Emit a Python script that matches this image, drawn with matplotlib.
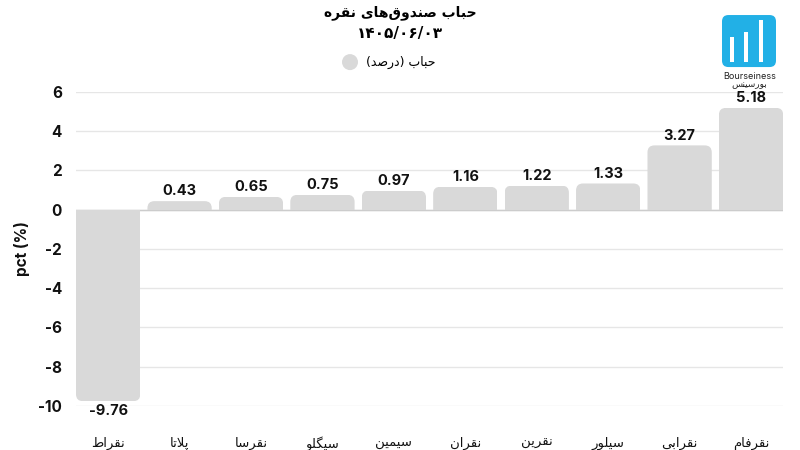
import matplotlib
matplotlib.use('Agg')
import matplotlib.pyplot as plt
from matplotlib.patches import FancyBboxPatch, Rectangle, Ellipse

# داده‌ها
funds = ['نقراط', 'پلاتا', 'نقرسا', 'سیگلو', 'سیمین', 'نقران', 'نقرین', 'سیلور', 'نقرابی', 'نقرفام']
bubble = [-9.76, 0.43, 0.65, 0.75, 0.97, 1.16, 1.22, 1.33, 3.27, 5.18]
yticks = [-10, -8, -6, -4, -2, 0, 2, 4, 6]
title_text = 'حباب صندوق‌های نقره'
date_text = '۱۴۰۵/۰۶/۰۳'
legend_text = 'حباب (درصد)'
brand_en = 'Bourseiness'
brand_fa = 'بورسینس'

# شکل‌دهی ساده حروف فارسی (matplotlib خودش انجام نمی‌دهد)
FORMS = {
    'ا': ('\uFE8D', '\uFE8E', None, None),
    'ب': ('\uFE8F', '\uFE90', '\uFE91', '\uFE92'),
    'پ': ('\uFB56', '\uFB57', '\uFB58', '\uFB59'),
    'ت': ('\uFE95', '\uFE96', '\uFE97', '\uFE98'),
    'ح': ('\uFEA1', '\uFEA2', '\uFEA3', '\uFEA4'),
    'د': ('\uFEA9', '\uFEAA', None, None),
    'ر': ('\uFEAD', '\uFEAE', None, None),
    'س': ('\uFEB1', '\uFEB2', '\uFEB3', '\uFEB4'),
    'ص': ('\uFEB9', '\uFEBA', '\uFEBB', '\uFEBC'),
    'ط': ('\uFEC1', '\uFEC2', '\uFEC3', '\uFEC4'),
    'ف': ('\uFED1', '\uFED2', '\uFED3', '\uFED4'),
    'ق': ('\uFED5', '\uFED6', '\uFED7', '\uFED8'),
    'گ': ('\uFB92', '\uFB93', '\uFB94', '\uFB95'),
    'ل': ('\uFEDD', '\uFEDE', '\uFEDF', '\uFEE0'),
    'م': ('\uFEE1', '\uFEE2', '\uFEE3', '\uFEE4'),
    'ن': ('\uFEE5', '\uFEE6', '\uFEE7', '\uFEE8'),
    'ه': ('\uFEE9', '\uFEEA', '\uFEEB', '\uFEEC'),
    'و': ('\uFEED', '\uFEEE', None, None),
    'ی': ('\uFBFC', '\uFBFD', '\uFBFE', '\uFBFF'),
}
MIRROR = {'(': ')', ')': '('}


def fa(text):
    """شکل‌دهی و برعکس کردن متن برای نمایش راست به چپ"""
    out = []
    i = 0
    n = len(text)
    while i < n:
        c = text[i]
        if c not in FORMS:
            if c != '\u200c':
                out.append(MIRROR.get(c, c))
            i += 1
            continue
        prev = text[i - 1] if i > 0 else ''
        joins_prev = prev in FORMS and FORMS[prev][2] is not None
        # لام الف
        if c == 'ل' and i + 1 < n and text[i + 1] == 'ا':
            out.append('\uFEFC' if joins_prev else '\uFEFB')
            i += 2
            continue
        nxt = text[i + 1] if i + 1 < n else ''
        joins_next = nxt in FORMS and FORMS[c][2] is not None
        iso, fin, ini, med = FORMS[c]
        if joins_prev and joins_next:
            out.append(med)
        elif joins_prev:
            out.append(fin)
        elif joins_next:
            out.append(ini)
        else:
            out.append(iso)
        i += 1
    return ''.join(reversed(out))


plt.rcParams['font.family'] = ['Inter', 'DejaVu Sans']

fig = plt.figure(figsize=(8, 4.5), dpi=100)
ax = fig.add_axes([0.095, 0.098, 0.884, 0.698])

x = list(range(len(funds)))
bars = ax.bar(x, bubble, width=0.9, color='none', edgecolor='none')

# میله‌ها با گوشه گرد در سمت بیرونی
bar_color = '#d9d9d9'
px_x = 0.884 * 800 / 9.9
px_y = 0.698 * 450 / 16.0
r_px = 7.0
rx = r_px / px_x
ry = r_px / px_y
for b in bars:
    bx, bw, bh = b.get_x(), b.get_width(), b.get_height()
    if bh >= 0:
        y0, hh = -ry, bh + ry
    else:
        y0, hh = bh, -bh + ry
    patch = FancyBboxPatch((bx, y0), bw, hh,
                           boxstyle='round,pad=0,rounding_size=%f' % rx,
                           mutation_aspect=ry / rx,
                           facecolor=bar_color, edgecolor='none', zorder=2)
    ax.add_patch(patch)
    clip = Rectangle((bx, min(0, bh)), bw, abs(bh), transform=ax.transData)
    patch.set_clip_path(clip)

# برچسب مقادیر
for xi, v in zip(x, bubble):
    if v >= 0:
        ax.annotate(f'{v:.2f}', (xi, v), xytext=(0, 2), textcoords='offset points',
                    ha='center', va='bottom', fontsize=10.5, fontweight='bold', color='#111111')
    else:
        ax.annotate(f'{v:.2f}', (xi, v), xytext=(0, -2), textcoords='offset points',
                    ha='center', va='top', fontsize=10.5, fontweight='bold', color='#111111')

ax.set_xlim(-0.45, 9.45)
ax.set_ylim(-10, 6)
ax.set_yticks(yticks)
ax.set_yticklabels([str(t) for t in yticks], fontsize=11, fontweight='bold', color='#111111')
ax.set_xticks(x)
ax.set_xticklabels([fa(f) for f in funds], fontsize=9.5, color='#111111',
                   family=['DejaVu Sans'])
ax.tick_params(axis='x', length=0, pad=22)
ax.tick_params(axis='y', length=0, pad=10)
for s in ax.spines.values():
    s.set_visible(False)
ax.grid(axis='y', color='#e6e6e6', linewidth=1, zorder=0)
ax.set_axisbelow(True)
ax.axhline(0, color='#cccccc', linewidth=1, zorder=1)
ax.set_ylabel('pct (%)', fontsize=11, fontweight='bold', labelpad=6, color='#111111')

# عنوان و راهنما
fig.text(0.5, 0.972, fa(title_text), ha='center', va='center', fontsize=10,
         fontweight='bold', family=['DejaVu Sans'])
fig.text(0.5, 0.925, date_text, ha='center', va='center', fontsize=11,
         fontweight='bold', family=['DejaVu Sans'])
fig.patches.append(Ellipse((0.4375, 0.862), 0.02, 0.02 * 800 / 450,
                           transform=fig.transFigure, facecolor=bar_color,
                           edgecolor='none'))
fig.text(0.457, 0.862, fa(legend_text), ha='left', va='center', fontsize=9,
         family=['DejaVu Sans'])

# لوگو
logo = FancyBboxPatch((0.9025, 0.851), 0.0675, 0.1156,
                      boxstyle='round,pad=0,rounding_size=0.008',
                      mutation_aspect=800 / 450, transform=fig.transFigure,
                      facecolor='#22b0e6', edgecolor='none')
fig.patches.append(logo)
for bxl, btop in [(0.9125, 0.918), (0.9305, 0.929), (0.9485, 0.956)]:
    fig.patches.append(Rectangle((bxl, 0.862), 0.005, btop - 0.862,
                                 transform=fig.transFigure, facecolor='white',
                                 edgecolor='none'))
fig.text(0.9365, 0.831, brand_en, ha='center', va='center', fontsize=6.5, color='#222222')
fig.text(0.9365, 0.811, fa(brand_fa), ha='center', va='center', fontsize=6.5,
         color='#222222', family=['DejaVu Sans'])

fig.savefig('out.png', dpi=100)
